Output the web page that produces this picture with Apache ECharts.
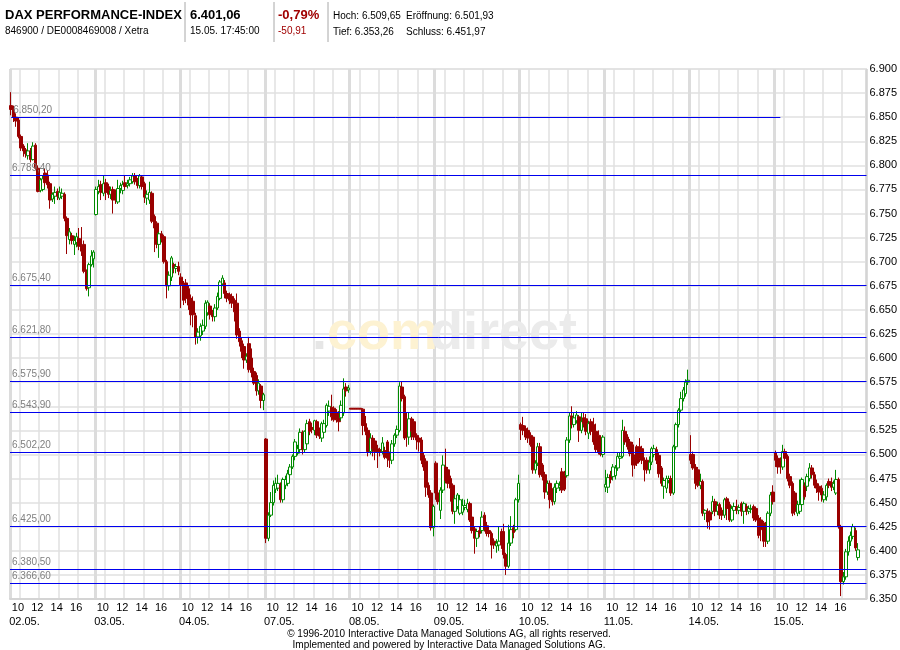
<!DOCTYPE html>
<html>
<head>
<meta charset="utf-8">
<script src="https://cdn.jsdelivr.net/npm/echarts@6/dist/echarts.min.js"></script>
<style>
html,body{margin:0;padding:0;background:#fff;}
#chart{width:900px;height:650px;}
</style>
</head>
<body>
<div id="chart"></div>
<script>
// ---------- data ----------
const dates = ['02.05.','03.05.','04.05.','07.05.','08.05.','09.05.','10.05.','11.05.','14.05.','15.05.'];
const times = ['09:00','09:15','09:30','09:45','10:00','10:15','10:30','10:45','11:00','11:15','11:30','11:45',
  '12:00','12:15','12:30','12:45','13:00','13:15','13:30','13:45','14:00','14:15','14:30','14:45',
  '15:00','15:15','15:30','15:45','16:00','16:15','16:30','16:45','17:00','17:15','17:30'];
const hourMarks = ['10:00','12:00','14:00','16:00'];
const padCategories = ['pad1','pad2','pad3'];
const yTicks = {min: 6350, max: 6900, step: 25};

// candles: [open, close, low, high]
const day0205 = [[6862,6858,6852,6876],[6858,6850,6845,6862],[6850,6846,6840,6854],[6847,6830,6828,6850],[6830,6818,6815,6832],
 [6820,6815,6809,6822],[6816,6812,6808,6818],[6810,6815,6806,6823],[6815,6806,6803,6818],[6806,6820,6805,6824],
 [6821,6797,6795,6823],[6797,6773,6772,6800],[6774,6785,6772,6787],[6775,6786,6773,6790],[6792,6782,6778,6797],
 [6790,6780,6776,6795],[6781,6764,6755,6783],[6765,6770,6762,6772],[6768,6772,6760,6778],[6773,6768,6764,6776],
 [6766,6772,6764,6778],[6768,6771,6765,6776],[6770,6745,6742,6772],[6745,6727,6708,6747],[6723,6731,6718,6735],
 [6727,6722,6718,6730],[6718,6722,6707,6727],[6720,6726,6715,6730],[6724,6716,6712,6735],[6717,6711,6706,6736],
 [6718,6690,6688,6722],[6690,6672,6670,6692],[6673,6697,6664,6699],[6697,6706,6695,6712],[6703,6710,6694,6712]];
const day0305 = [[6749,6775,6748,6778],[6773,6778,6770,6785],[6780,6772,6764,6784],[6771,6781,6768,6790],[6782,6772,6764,6786],
 [6778,6770,6766,6781],[6770,6774,6765,6778],[6775,6764,6750,6778],[6772,6764,6760,6775],[6762,6776,6760,6785],
 [6776,6779,6771,6782],[6774,6780,6770,6784],[6782,6778,6775,6790],[6779,6781,6776,6785],[6781,6785,6778,6788],
 [6783,6789,6781,6792],[6789,6783,6780,6792],[6784,6779,6776,6787],[6779,6789,6776,6791],[6788,6778,6775,6790],
 [6781,6767,6761,6783],[6766,6770,6759,6774],[6764,6772,6760,6783],[6771,6742,6740,6773],[6747,6735,6710,6749],
 [6740,6718,6714,6742],[6718,6729,6704,6731],[6729,6724,6720,6732],[6726,6700,6698,6728],[6700,6675,6662,6702],
 [6675,6686,6670,6690],[6684,6704,6680,6706],[6697,6694,6688,6699],[6693,6695,6688,6698],[6695,6690,6686,6700]];
const day0405 = [[6684,6676,6652,6688],[6676,6660,6655,6680],[6678,6662,6657,6682],[6672,6655,6650,6675],[6662,6645,6634,6666],
 [6659,6645,6632,6664],[6644,6622,6614,6647],[6622,6627,6615,6631],[6623,6633,6618,6636],[6628,6634,6624,6640],
 [6633,6657,6630,6660],[6647,6658,6644,6660],[6654,6645,6640,6657],[6647,6643,6638,6650],[6643,6652,6638,6656],
 [6652,6664,6650,6668],[6662,6679,6660,6681],[6677,6683,6675,6686],[6678,6667,6662,6681],[6667,6662,6658,6670],
 [6666,6660,6656,6668],[6664,6657,6652,6667],[6660,6648,6638,6662],[6657,6624,6620,6667],[6628,6617,6612,6631],
 [6618,6607,6600,6621],[6612,6598,6589,6615],[6598,6602,6595,6605],[6615,6588,6585,6622],[6600,6585,6580,6610],
 [6586,6574,6572,6590],[6582,6566,6561,6585],[6566,6574,6562,6578],[6571,6556,6548,6573],[6556,6562,6546,6564]];
const day0705 = [[6516,6413,6408,6517],[6413,6437,6410,6440],[6437,6450,6435,6461],[6450,6468,6447,6473],[6464,6470,6460,6476],
 [6465,6470,6462,6479],[6468,6453,6450,6471],[6453,6474,6450,6476],[6468,6474,6464,6478],[6470,6480,6467,6484],
 [6479,6487,6476,6490],[6487,6498,6485,6500],[6498,6513,6494,6516],[6501,6506,6499,6510],[6505,6523,6501,6527],
 [6523,6505,6500,6525],[6505,6524,6502,6525],[6511,6532,6508,6536],[6534,6524,6520,6537],[6528,6526,6522,6533],
 [6525,6535,6520,6536],[6534,6520,6517,6536],[6524,6519,6516,6528],[6517,6532,6513,6534],[6523,6532,6520,6536],
 [6530,6551,6528,6553],[6545,6550,6540,6556],[6549,6539,6535,6562],[6548,6536,6534,6550],[6544,6536,6533,6547],
 [6542,6534,6524,6545],[6538,6551,6535,6556],[6543,6568,6540,6579],[6570,6566,6560,6574],[6567,6569,6564,6572]];
const day0805 = [[6548,6547,6547,6548],[6548,6547,6547,6548],[6548,6547,6547,6548],[6548,6547,6547,6548],[6548,6547,6547,6548],
 [6547,6530,6520,6548],[6532,6524,6520,6540],[6525,6503,6498,6528],[6503,6517,6500,6522],[6517,6506,6498,6520],
 [6514,6503,6494,6517],[6506,6503,6486,6510],[6505,6503,6498,6507],[6503,6512,6500,6518],[6504,6497,6495,6508],
 [6513,6496,6487,6515],[6500,6494,6486,6503],[6494,6511,6490,6515],[6511,6520,6508,6522],[6520,6526,6517,6530],
 [6525,6571,6523,6575],[6570,6558,6555,6576],[6560,6517,6515,6562],[6536,6518,6508,6544],[6518,6537,6510,6544],
 [6537,6524,6515,6539],[6534,6518,6515,6537],[6520,6515,6505,6522],[6517,6513,6503,6520],[6515,6494,6490,6518],
 [6499,6487,6483,6502],[6493,6466,6456,6496],[6468,6458,6455,6471],[6460,6424,6421,6463],[6424,6446,6415,6448]];
const day0905 = [[6491,6460,6453,6493],[6460,6451,6448,6468],[6442,6463,6433,6466],[6463,6489,6460,6499],[6487,6473,6470,6506],
 [6484,6470,6465,6487],[6475,6465,6451,6478],[6468,6441,6438,6470],[6441,6454,6428,6458],[6446,6458,6443,6460],
 [6439,6453,6437,6458],[6440,6447,6437,6454],[6445,6447,6442,6453],[6443,6449,6440,6454],[6449,6432,6430,6451],
 [6435,6421,6418,6438],[6423,6413,6397,6425],[6413,6420,6404,6423],[6421,6418,6414,6425],[6421,6435,6418,6441],
 [6437,6423,6420,6440],[6426,6418,6415,6430],[6421,6418,6414,6424],[6418,6406,6392,6420],[6410,6406,6402,6413],
 [6405,6408,6398,6412],[6406,6410,6400,6425],[6420,6406,6402,6423],[6420,6396,6392,6428],[6396,6384,6375,6398],
 [6384,6408,6382,6427],[6408,6422,6405,6436],[6424,6419,6413,6427],[6422,6453,6420,6455],[6453,6470,6450,6479]];
const day1005 = [[6531,6526,6515,6533],[6530,6525,6520,6539],[6527,6518,6515,6530],[6525,6517,6512,6528],[6520,6510,6508,6523],
 [6518,6484,6480,6520],[6484,6491,6480,6494],[6491,6508,6488,6512],[6508,6479,6476,6512],[6489,6477,6473,6491],
 [6479,6461,6454,6482],[6461,6470,6458,6473],[6470,6453,6444,6473],[6463,6451,6447,6465],[6451,6466,6448,6470],
 [6465,6470,6460,6473],[6466,6468,6462,6472],[6482,6463,6460,6486],[6480,6464,6462,6483],[6478,6515,6476,6518],
 [6515,6540,6512,6543],[6540,6531,6527,6550],[6531,6538,6528,6543],[6535,6541,6532,6545],[6539,6525,6513,6541],
 [6525,6534,6522,6543],[6538,6532,6528,6544],[6537,6524,6520,6542],[6522,6532,6516,6535],[6534,6524,6520,6537],
 [6531,6513,6510,6538],[6524,6505,6502,6532],[6520,6502,6500,6525],[6517,6500,6498,6520],[6500,6518,6497,6520]];
const day1105 = [[6466,6469,6461,6484],[6466,6476,6460,6480],[6479,6474,6470,6483],[6477,6487,6473,6490],[6478,6486,6474,6489],
 [6486,6498,6483,6502],[6496,6498,6492,6502],[6498,6525,6496,6536],[6524,6513,6510,6529],[6518,6508,6505,6521],
 [6513,6501,6498,6516],[6510,6489,6477,6513],[6498,6489,6485,6500],[6508,6491,6488,6510],[6508,6496,6492,6517],
 [6506,6494,6490,6509],[6494,6484,6472,6497],[6494,6484,6480,6497],[6484,6492,6480,6498],[6492,6506,6489,6508],
 [6500,6506,6497,6510],[6505,6494,6490,6508],[6499,6480,6476,6502],[6486,6470,6467,6488],[6467,6473,6454,6476],
 [6465,6475,6460,6478],[6473,6475,6470,6478],[6475,6460,6457,6478],[6460,6508,6458,6510],[6508,6531,6505,6533],
 [6531,6546,6528,6548],[6546,6558,6543,6565],[6558,6567,6555,6570],[6563,6575,6560,6578],[6575,6577,6572,6588]];
const day1405 = [[6500,6494,6490,6520],[6500,6486,6484,6503],[6487,6470,6464,6490],[6484,6468,6466,6487],[6468,6472,6464,6480],
 [6472,6439,6436,6474],[6439,6442,6432,6443],[6441,6430,6423,6444],[6440,6432,6422,6442],[6441,6451,6438,6457],
 [6451,6441,6436,6454],[6441,6447,6437,6451],[6448,6437,6433,6450],[6442,6437,6432,6445],[6437,6453,6434,6455],
 [6454,6444,6432,6456],[6448,6432,6430,6451],[6432,6444,6430,6447],[6442,6446,6439,6450],[6446,6442,6438,6453],
 [6442,6445,6438,6448],[6449,6441,6436,6451],[6441,6449,6428,6451],[6446,6441,6437,6449],[6441,6444,6438,6447],
 [6443,6444,6439,6448],[6446,6434,6431,6448],[6444,6432,6430,6446],[6434,6416,6413,6437],[6432,6422,6410,6435],
 [6429,6410,6404,6431],[6427,6410,6404,6430],[6410,6439,6407,6441],[6439,6458,6436,6461],[6461,6451,6448,6468]];
const day1505 = [[6502,6494,6487,6504],[6496,6487,6480,6499],[6494,6487,6480,6497],[6487,6503,6484,6510],[6503,6496,6493,6506],
 [6498,6475,6472,6500],[6477,6468,6465,6480],[6470,6439,6436,6472],[6460,6441,6437,6462],[6439,6448,6436,6452],
 [6441,6448,6438,6474],[6448,6474,6445,6476],[6468,6456,6453,6471],[6467,6477,6462,6480],[6475,6486,6472,6491],
 [6486,6479,6475,6489],[6479,6468,6465,6482],[6470,6465,6460,6474],[6467,6461,6452,6470],[6465,6458,6451,6468],
 [6453,6458,6450,6462],[6456,6468,6452,6470],[6472,6468,6465,6475],[6471,6466,6462,6476],[6466,6470,6463,6473],
 [6460,6474,6458,6484],[6474,6425,6423,6476],[6425,6368,6353,6427],[6368,6373,6365,6378],[6373,6399,6370,6402],
 [6399,6410,6395,6415],[6410,6416,6405,6420],[6415,6425,6412,6428],[6421,6403,6400,6424],[6393,6401,6390,6408]];
const days = [day0205, day0305, day0405, day0705, day0805, day0905, day1005, day1105, day1405, day1505];

// horizontal marker levels
const levels = [6850.20, 6789.40, 6675.40, 6621.80, 6575.90, 6543.90, 6502.20, 6425.00, 6380.50, 6366.60];
const firstLevelEnd = '15.05. 09:30';

// header / footer texts
const titleName = 'DAX PERFORMANCE-INDEX';
const titleIds = '846900 / DE0008469008 / Xetra';
const lastPrice = '6.401,06';
const lastTime = '15.05. 17:45:00';
const changePct = '-0,79%';
const changeAbs = '-50,91';
const hochText = 'Hoch: 6.509,65';
const eroeffText = 'Eröffnung: 6.501,93';
const tiefText = 'Tief: 6.353,26';
const schlussText = 'Schluss: 6.451,97';
const footer1 = '\u00A9 1996-2010 Interactive Data Managed Solutions AG, all rights reserved.';
const footer2 = 'Implemented and powered by Interactive Data Managed Solutions AG.';

// ---------- build ----------
const categories = [];
const candles = [];
dates.forEach((d, i) => {
  times.forEach((t, j) => {
    categories.push(d + ' ' + t);
    candles.push(days[i][j]);
  });
});
padCategories.forEach(p => { categories.push(p); candles.push('-'); });

const nDayBars = times.length;
const nBars = dates.length * nDayBars;

function deNum(v, dec) {
  const s = v.toFixed(dec);
  const parts = s.split('.');
  const ip = parts[0];
  const thou = ip.length > 3 ? ip.slice(0, ip.length - 3) + '.' + ip.slice(-3) : ip;
  return dec > 0 ? thou + ',' + parts[1] : thou;
}

const FONT = '"Liberation Sans", Arial, Helvetica, sans-serif';
const LINE_BLUE = '#0000ee';

const markData = levels.map((v, i) => {
  const lab = {formatter: deNum(v, 2)};
  if (i === 0) {
    return [{coord: [0, v], label: lab}, {coord: [firstLevelEnd, v]}];
  }
  return {yAxis: v, label: lab};
});

const chart = echarts.init(document.getElementById('chart'), null, {renderer: 'canvas'});

function txt(text, x, y, font, fill, align) {
  return {type: 'text', z: 10, style: {text: text, x: x, y: y, font: font, fill: fill || '#000',
    align: align || 'left', verticalAlign: 'middle'}};
}
function vline(x, y1, y2) {
  return {type: 'line', z: 10, shape: {x1: x, y1: y1, x2: x, y2: y2}, style: {stroke: '#a8a8a8', lineWidth: 1}};
}

const option = {
  animation: false,
  backgroundColor: '#ffffff',
  grid: {left: 10, right: 31, top: 69, bottom: 51, show: true, borderColor: '#d4d4d4', borderWidth: 1, backgroundColor: 'transparent'},
  xAxis: [
    {
      type: 'category',
      data: categories,
      boundaryGap: true,
      axisLine: {show: true, lineStyle: {color: '#d4d4d4', width: 2}},
      axisTick: {show: false},
      axisLabel: {
        interval: (idx) => idx < nBars && hourMarks.indexOf(times[idx % nDayBars]) >= 0,
        formatter: (v) => v.split(' ')[1] ? v.split(' ')[1].slice(0, 2) : '',
        color: '#000', fontSize: 11, fontFamily: FONT, margin: 3, padding: [0, 6, 0, 0]
      },
      splitLine: {
        show: true,
        interval: (idx) => idx < nBars && hourMarks.indexOf(times[idx % nDayBars]) >= 0,
        lineStyle: {color: '#e0e0e0', width: 1.5}
      }
    },
    {
      type: 'category',
      data: categories,
      boundaryGap: true,
      position: 'bottom',
      axisLine: {show: false},
      axisTick: {show: false},
      axisLabel: {
        interval: (idx) => idx < nBars && idx % nDayBars === 0,
        formatter: (v) => v.split(' ')[0],
        align: 'left',
        color: '#000', fontSize: 11, fontFamily: FONT, margin: 17, padding: [0, 0, 0, -2]
      },
      splitLine: {
        show: true,
        interval: (idx) => idx < nBars && idx % nDayBars === 0,
        lineStyle: {color: '#dcdcdc', width: 3}
      }
    }
  ],
  yAxis: {
    type: 'value',
    position: 'right',
    min: yTicks.min, max: yTicks.max, interval: yTicks.step,
    axisLine: {show: true, lineStyle: {color: '#d4d4d4', width: 1}},
    axisTick: {show: false},
    axisLabel: {formatter: (v) => deNum(v, 0), color: '#000', fontSize: 11, fontFamily: FONT, margin: 3},
    splitLine: {show: true, lineStyle: {color: '#e0e0e0', width: 1.5}}
  },
  graphic: [
    {type: 'text', z: 1, style: {text: '.', x: 312, y: 334, font: 'bold 54px ' + FONT, fill: '#e6e6e6', verticalAlign: 'middle'}},
    {type: 'text', z: 1, style: {text: 'com', x: 327, y: 334, font: 'bold 54px ' + FONT, fill: '#fdf2d2', verticalAlign: 'middle'}},
    {type: 'text', z: 1, style: {text: 'direct', x: 430, y: 334, font: 'bold 54px ' + FONT, fill: '#ebebeb', verticalAlign: 'middle'}},
    txt(titleName, 5, 15, 'bold 13px ' + FONT),
    txt(titleIds, 5, 31, '10px ' + FONT),
    vline(185, 2, 42),
    txt(lastPrice, 190, 15, 'bold 13px ' + FONT),
    txt(lastTime, 190, 31, '10px ' + FONT),
    vline(274, 2, 42),
    txt(changePct, 278, 15, 'bold 13px ' + FONT, '#a00000'),
    txt(changeAbs, 278, 31, '10px ' + FONT, '#a00000'),
    vline(328, 2, 42),
    txt(hochText, 333, 16, '10px ' + FONT),
    txt(eroeffText, 406, 16, '10px ' + FONT),
    txt(tiefText, 333, 32, '10px ' + FONT),
    txt(schlussText, 406, 32, '10px ' + FONT),
    txt(footer1, 449, 634, '10px ' + FONT, '#000', 'center'),
    txt(footer2, 449, 645, '10px ' + FONT, '#000', 'center')
  ],
  series: [{
    type: 'candlestick',
    xAxisIndex: 0,
    yAxisIndex: 0,
    z: 3,
    data: candles,
    barWidth: 3,
    itemStyle: {color: '#ffffff', color0: '#990000', borderColor: '#008a00', borderColor0: '#990000', borderWidth: 1},
    markLine: {
      silent: true,
      symbol: 'none',
      animation: false,
      lineStyle: {color: LINE_BLUE, width: 1, type: 'solid'},
      label: {show: true, position: 'insideStartTop', color: '#808080', fontSize: 10, fontFamily: FONT, distance: [2, 2]},
      emphasis: {disabled: true},
      data: markData
    }
  }]
};
chart.setOption(option);
</script>
</body>
</html>
